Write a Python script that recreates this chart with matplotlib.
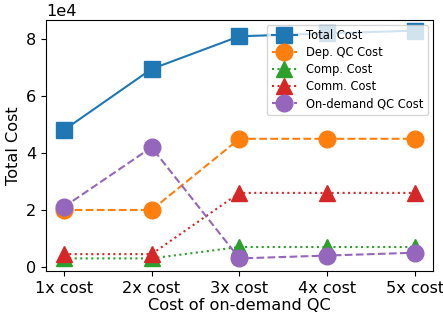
import matplotlib
matplotlib.use('Agg')
import matplotlib.pyplot as plt

# Dados
x_labels = ['1x cost', '2x cost', '3x cost', '4x cost', '5x cost']
total_cost = [48000, 69500, 81000, 82000, 83000]
dep_qc_cost = [20000, 20000, 45000, 45000, 45000]
comp_cost = [3000, 3000, 7000, 7000, 7000]
comm_cost = [4500, 4500, 26000, 26000, 26000]
ondemand_qc_cost = [21000, 42000, 3000, 4000, 5000]

x = list(range(len(x_labels)))

fig, ax = plt.subplots(figsize=(4.43, 3.18), dpi=100)
ax.plot(x, total_cost, '-s', color='#1f77b4', markersize=12, label='Total Cost')
ax.plot(x, dep_qc_cost, '--o', color='#ff7f0e', markersize=12, label='Dep. QC Cost')
ax.plot(x, comp_cost, ':^', color='#2ca02c', markersize=12, label='Comp. Cost')
ax.plot(x, comm_cost, ':^', color='#d62728', markersize=12, label='Comm. Cost')
ax.plot(x, ondemand_qc_cost, '--o', color='#9467bd', markersize=12, label='On-demand QC Cost')

fs = 11.6
ax.set_xticks(x)
ax.set_xticklabels(x_labels, fontsize=fs)
ax.tick_params(axis='y', labelsize=fs)
ax.set_xlim(-0.2, 4.2)
ax.set_ylim(-1400, 86700)
ax.ticklabel_format(axis='y', style='sci', scilimits=(4, 4))
ax.yaxis.get_offset_text().set_fontsize(fs)
ax.set_xlabel('Cost of on-demand QC', fontsize=fs, labelpad=2)
ax.set_ylabel('Total Cost', fontsize=fs)
ax.legend(loc='upper right', fontsize=8.3, handlelength=2.2, labelspacing=0.35,
          borderaxespad=0.4)

plt.subplots_adjust(left=0.104, right=0.977, top=0.937, bottom=0.148)
plt.savefig('out.png', dpi=100)
plt.close()
